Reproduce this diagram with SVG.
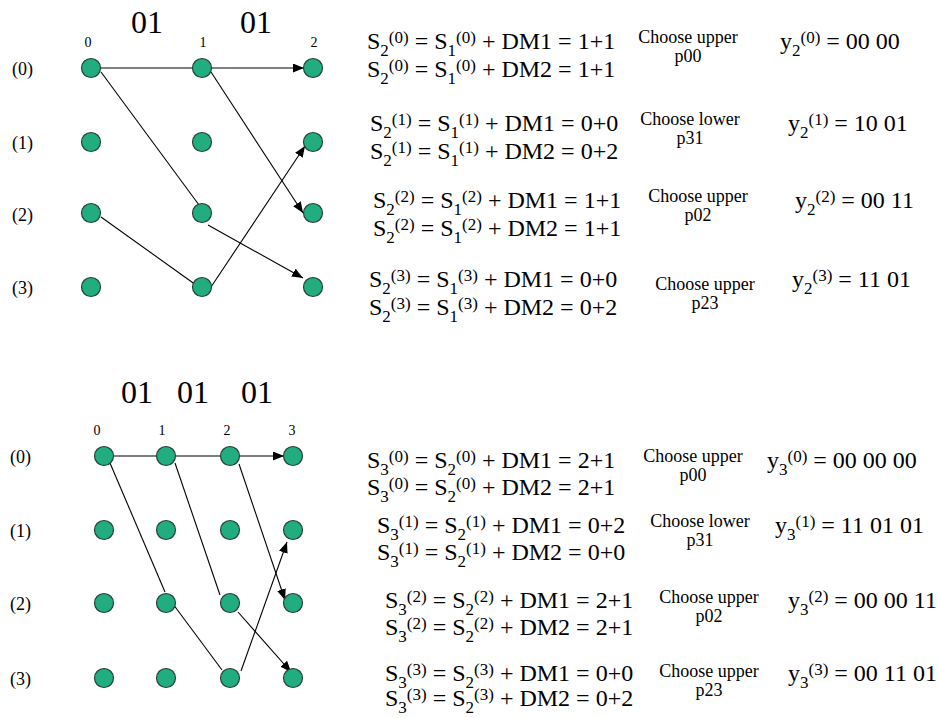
<svg xmlns="http://www.w3.org/2000/svg" width="939" height="718" viewBox="0 0 939 718" font-family="'Liberation Serif','Times New Roman',serif">
<style>
text{font-family:"Liberation Serif","Times New Roman",serif;fill:#000}
.eq{font-size:24px}
.s{font-size:17px}
.ch{font-size:18px;text-anchor:middle}
.lbl{font-size:18px}
.col{font-size:14px;text-anchor:middle}
.big{font-size:32px;text-anchor:middle}
.node{fill:#21ad80;stroke:#264236;stroke-width:1.2}
.e{stroke:#000;stroke-width:1.1;fill:none}
.a{marker-end:url(#ah)}
</style>
<defs>
<marker id="ah" markerUnits="userSpaceOnUse" markerWidth="11" markerHeight="9" refX="11" refY="4.5" orient="auto"><path d="M0,0 L11,4.5 L0,9 z" fill="#000"/></marker>
</defs>
<rect width="939" height="718" fill="#fff"/>

<g id="top-labels">
<text class="big" x="147" y="33">01</text><text class="big" x="256" y="33">01</text>
<text class="col" x="88" y="47">0</text><text class="col" x="203" y="47">1</text><text class="col" x="314" y="47">2</text>
<text class="lbl" x="12" y="75">(0)</text><text class="lbl" x="12" y="149">(1)</text><text class="lbl" x="12" y="221">(2)</text><text class="lbl" x="12" y="294">(3)</text>
</g>

<g id="top-connectors">
<line class="e" x1="100" y1="68" x2="193" y2="68"/>
<line class="e a" x1="211" y1="68" x2="304" y2="68"/>
<line class="e" x1="101" y1="72" x2="199" y2="205"/>
<line class="e a" x1="211" y1="72" x2="303" y2="213"/>
<line class="e" x1="101" y1="217" x2="196" y2="285"/>
<line class="e a" x1="211" y1="287" x2="305" y2="146"/>
<line class="e a" x1="208" y1="225" x2="303" y2="278"/>
</g>

<g id="top-nodes">
<g id="t00"><circle class="node" cx="91" cy="68" r="9.5"/></g>
<g id="t10"><circle class="node" cx="202" cy="68" r="9.5"/></g>
<g id="t20"><circle class="node" cx="313" cy="68" r="9.5"/></g>
<g id="t01"><circle class="node" cx="91" cy="142" r="9.5"/></g>
<g id="t11"><circle class="node" cx="202" cy="142" r="9.5"/></g>
<g id="t21"><circle class="node" cx="313" cy="142" r="9.5"/></g>
<g id="t02"><circle class="node" cx="91" cy="213" r="9.5"/></g>
<g id="t12"><circle class="node" cx="202" cy="213" r="9.5"/></g>
<g id="t22"><circle class="node" cx="313" cy="213" r="9.5"/></g>
<g id="t03"><circle class="node" cx="91" cy="287" r="9.5"/></g>
<g id="t13"><circle class="node" cx="202" cy="287" r="9.5"/></g>
<g id="t23"><circle class="node" cx="313" cy="287" r="9.5"/></g>
</g>

<g id="bottom-labels">
<text class="big" x="137" y="403">01</text><text class="big" x="193" y="403">01</text><text class="big" x="257" y="403">01</text>
<text class="col" x="97" y="435">0</text><text class="col" x="162" y="435">1</text><text class="col" x="227" y="435">2</text><text class="col" x="292" y="435">3</text>
<text class="lbl" x="10" y="463">(0)</text><text class="lbl" x="10" y="537">(1)</text><text class="lbl" x="10" y="610">(2)</text><text class="lbl" x="10" y="685">(3)</text>
</g>

<g id="bottom-connectors">
<line class="e" x1="113" y1="456" x2="157" y2="456"/>
<line class="e" x1="175" y1="456" x2="221" y2="456"/>
<line class="e a" x1="239" y1="456" x2="284" y2="456"/>
<line class="e" x1="110" y1="463" x2="165" y2="592"/>
<line class="e" x1="173" y1="604" x2="222" y2="670"/>
<line class="e" x1="175" y1="463" x2="220" y2="595"/>
<line class="e a" x1="239" y1="464" x2="285" y2="600"/>
<line class="e a" x1="241" y1="671" x2="287" y2="542"/>
<line class="e a" x1="238" y1="612" x2="291" y2="672"/>
</g>

<g id="bottom-nodes">
<g id="b00"><circle class="node" cx="104" cy="456" r="9.5"/></g>
<g id="b10"><circle class="node" cx="166" cy="456" r="9.5"/></g>
<g id="b20"><circle class="node" cx="230" cy="456" r="9.5"/></g>
<g id="b30"><circle class="node" cx="293" cy="456" r="9.5"/></g>
<g id="b01"><circle class="node" cx="104" cy="530" r="9.5"/></g>
<g id="b11"><circle class="node" cx="166" cy="530" r="9.5"/></g>
<g id="b21"><circle class="node" cx="230" cy="530" r="9.5"/></g>
<g id="b31"><circle class="node" cx="293" cy="530" r="9.5"/></g>
<g id="b02"><circle class="node" cx="104" cy="603" r="9.5"/></g>
<g id="b12"><circle class="node" cx="166" cy="603" r="9.5"/></g>
<g id="b22"><circle class="node" cx="230" cy="603" r="9.5"/></g>
<g id="b32"><circle class="node" cx="293" cy="603" r="9.5"/></g>
<g id="b03"><circle class="node" cx="104" cy="678" r="9.5"/></g>
<g id="b13"><circle class="node" cx="166" cy="678" r="9.5"/></g>
<g id="b23"><circle class="node" cx="230" cy="678" r="9.5"/></g>
<g id="b33"><circle class="node" cx="293" cy="678" r="9.5"/></g>
</g>

<g id="top-equations">
<text class="eq" x="367" y="49">S<tspan class="s" dy="7">2</tspan><tspan class="s" dy="-13">(0)</tspan><tspan dy="6"> = S</tspan><tspan class="s" dy="7">1</tspan><tspan class="s" dy="-13">(0)</tspan><tspan dy="6"> + DM1 = 1+1</tspan></text>
<text class="eq" x="367" y="77">S<tspan class="s" dy="7">2</tspan><tspan class="s" dy="-13">(0)</tspan><tspan dy="6"> = S</tspan><tspan class="s" dy="7">1</tspan><tspan class="s" dy="-13">(0)</tspan><tspan dy="6"> + DM2 = 1+1</tspan></text>
<text class="ch" x="688" y="43">Choose upper</text><text class="ch" x="688" y="62">p00</text>
<text class="eq" x="780" y="49">y<tspan class="s" dy="7">2</tspan><tspan class="s" dy="-13">(0)</tspan><tspan dy="6"> = 00 00</tspan></text>

<text class="eq" x="370" y="131">S<tspan class="s" dy="7">2</tspan><tspan class="s" dy="-13">(1)</tspan><tspan dy="6"> = S</tspan><tspan class="s" dy="7">1</tspan><tspan class="s" dy="-13">(1)</tspan><tspan dy="6"> + DM1 = 0+0</tspan></text>
<text class="eq" x="370" y="159">S<tspan class="s" dy="7">2</tspan><tspan class="s" dy="-13">(1)</tspan><tspan dy="6"> = S</tspan><tspan class="s" dy="7">1</tspan><tspan class="s" dy="-13">(1)</tspan><tspan dy="6"> + DM2 = 0+2</tspan></text>
<text class="ch" x="690" y="125">Choose lower</text><text class="ch" x="690" y="144">p31</text>
<text class="eq" x="788" y="131">y<tspan class="s" dy="7">2</tspan><tspan class="s" dy="-13">(1)</tspan><tspan dy="6"> = 10 01</tspan></text>

<text class="eq" x="373" y="208">S<tspan class="s" dy="7">2</tspan><tspan class="s" dy="-13">(2)</tspan><tspan dy="6"> = S</tspan><tspan class="s" dy="7">1</tspan><tspan class="s" dy="-13">(2)</tspan><tspan dy="6"> + DM1 = 1+1</tspan></text>
<text class="eq" x="373" y="236">S<tspan class="s" dy="7">2</tspan><tspan class="s" dy="-13">(2)</tspan><tspan dy="6"> = S</tspan><tspan class="s" dy="7">1</tspan><tspan class="s" dy="-13">(2)</tspan><tspan dy="6"> + DM2 = 1+1</tspan></text>
<text class="ch" x="698" y="202">Choose upper</text><text class="ch" x="698" y="221">p02</text>
<text class="eq" x="795" y="208">y<tspan class="s" dy="7">2</tspan><tspan class="s" dy="-13">(2)</tspan><tspan dy="6"> = 00 11</tspan></text>

<text class="eq" x="369" y="287">S<tspan class="s" dy="7">2</tspan><tspan class="s" dy="-13">(3)</tspan><tspan dy="6"> = S</tspan><tspan class="s" dy="7">1</tspan><tspan class="s" dy="-13">(3)</tspan><tspan dy="6"> + DM1 = 0+0</tspan></text>
<text class="eq" x="369" y="315">S<tspan class="s" dy="7">2</tspan><tspan class="s" dy="-13">(3)</tspan><tspan dy="6"> = S</tspan><tspan class="s" dy="7">1</tspan><tspan class="s" dy="-13">(3)</tspan><tspan dy="6"> + DM2 = 0+2</tspan></text>
<text class="ch" x="705" y="290">Choose upper</text><text class="ch" x="705" y="309">p23</text>
<text class="eq" x="792" y="287">y<tspan class="s" dy="7">2</tspan><tspan class="s" dy="-13">(3)</tspan><tspan dy="6"> = 11 01</tspan></text>
</g>

<g id="bottom-equations">
<text class="eq" x="367" y="468">S<tspan class="s" dy="7">3</tspan><tspan class="s" dy="-13">(0)</tspan><tspan dy="6"> = S</tspan><tspan class="s" dy="7">2</tspan><tspan class="s" dy="-13">(0)</tspan><tspan dy="6"> + DM1 = 2+1</tspan></text>
<text class="eq" x="367" y="495">S<tspan class="s" dy="7">3</tspan><tspan class="s" dy="-13">(0)</tspan><tspan dy="6"> = S</tspan><tspan class="s" dy="7">2</tspan><tspan class="s" dy="-13">(0)</tspan><tspan dy="6"> + DM2 = 2+1</tspan></text>
<text class="ch" x="693" y="462">Choose upper</text><text class="ch" x="693" y="481">p00</text>
<text class="eq" x="767" y="468">y<tspan class="s" dy="7">3</tspan><tspan class="s" dy="-13">(0)</tspan><tspan dy="6"> = 00 00 00</tspan></text>

<text class="eq" x="377" y="533">S<tspan class="s" dy="7">3</tspan><tspan class="s" dy="-13">(1)</tspan><tspan dy="6"> = S</tspan><tspan class="s" dy="7">2</tspan><tspan class="s" dy="-13">(1)</tspan><tspan dy="6"> + DM1 = 0+2</tspan></text>
<text class="eq" x="377" y="560">S<tspan class="s" dy="7">3</tspan><tspan class="s" dy="-13">(1)</tspan><tspan dy="6"> = S</tspan><tspan class="s" dy="7">2</tspan><tspan class="s" dy="-13">(1)</tspan><tspan dy="6"> + DM2 = 0+0</tspan></text>
<text class="ch" x="700" y="527">Choose lower</text><text class="ch" x="700" y="546">p31</text>
<text class="eq" x="775" y="533">y<tspan class="s" dy="7">3</tspan><tspan class="s" dy="-13">(1)</tspan><tspan dy="6"> = 11 01 01</tspan></text>

<text class="eq" x="385" y="608">S<tspan class="s" dy="7">3</tspan><tspan class="s" dy="-13">(2)</tspan><tspan dy="6"> = S</tspan><tspan class="s" dy="7">2</tspan><tspan class="s" dy="-13">(2)</tspan><tspan dy="6"> + DM1 = 2+1</tspan></text>
<text class="eq" x="385" y="635">S<tspan class="s" dy="7">3</tspan><tspan class="s" dy="-13">(2)</tspan><tspan dy="6"> = S</tspan><tspan class="s" dy="7">2</tspan><tspan class="s" dy="-13">(2)</tspan><tspan dy="6"> + DM2 = 2+1</tspan></text>
<text class="ch" x="709" y="603">Choose upper</text><text class="ch" x="709" y="622">p02</text>
<text class="eq" x="788" y="608">y<tspan class="s" dy="7">3</tspan><tspan class="s" dy="-13">(2)</tspan><tspan dy="6"> = 00 00 11</tspan></text>

<text class="eq" x="385" y="681">S<tspan class="s" dy="7">3</tspan><tspan class="s" dy="-13">(3)</tspan><tspan dy="6"> = S</tspan><tspan class="s" dy="7">2</tspan><tspan class="s" dy="-13">(3)</tspan><tspan dy="6"> + DM1 = 0+0</tspan></text>
<text class="eq" x="385" y="706">S<tspan class="s" dy="7">3</tspan><tspan class="s" dy="-13">(3)</tspan><tspan dy="6"> = S</tspan><tspan class="s" dy="7">2</tspan><tspan class="s" dy="-13">(3)</tspan><tspan dy="6"> + DM2 = 0+2</tspan></text>
<text class="ch" x="709" y="677">Choose upper</text><text class="ch" x="709" y="696">p23</text>
<text class="eq" x="788" y="681">y<tspan class="s" dy="7">3</tspan><tspan class="s" dy="-13">(3)</tspan><tspan dy="6"> = 00 11 01</tspan></text>
</g>
</svg>
